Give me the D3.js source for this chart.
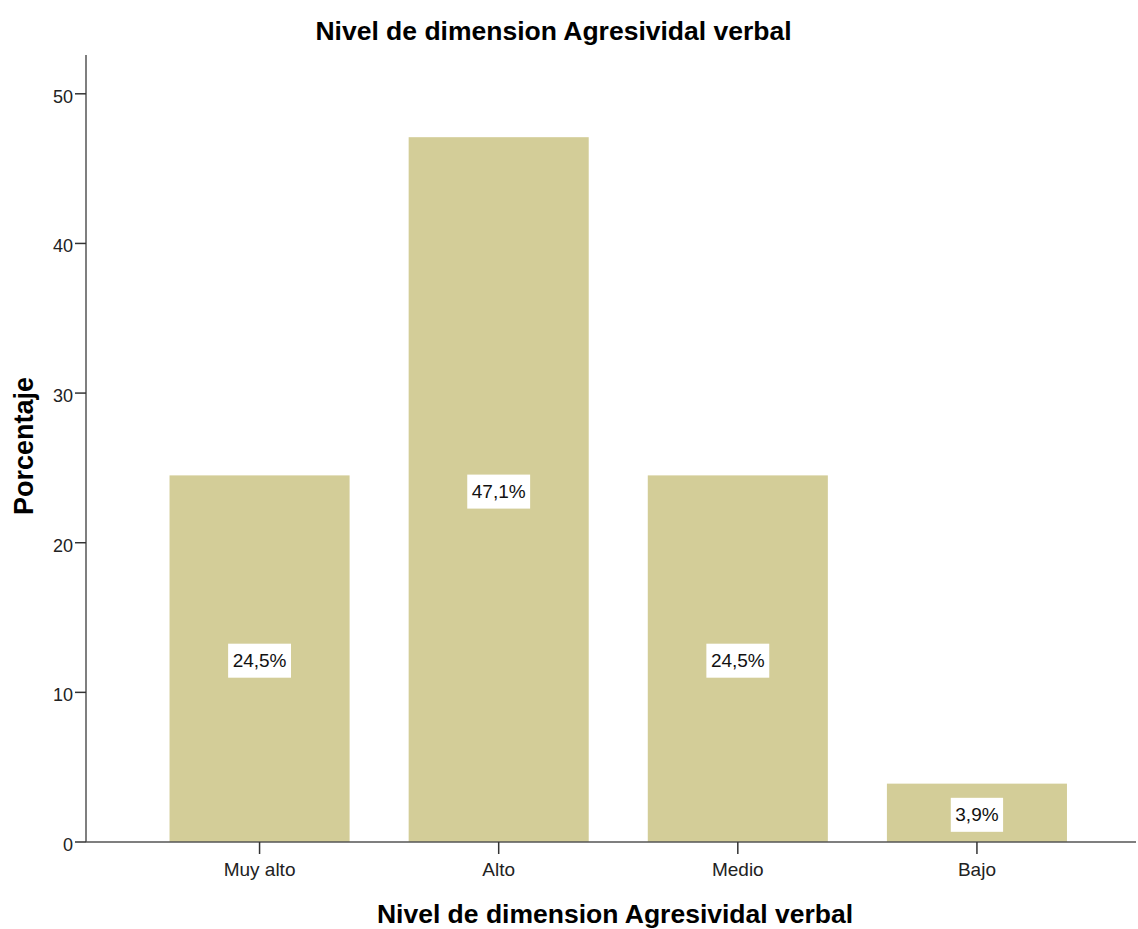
<!DOCTYPE html>
<html>
<head>
<meta charset="utf-8">
<script src="https://cdn.jsdelivr.net/npm/d3@7"></script>
<style>
  body { margin: 0; background: #fff; }
  text { font-family: "Liberation Sans", Arial, sans-serif; }
</style>
</head>
<body>
<div class="chart"></div>
<script>
// data
var categories = ["Muy alto", "Alto", "Medio", "Bajo"];
var percents = [24.5, 47.1, 24.5, 3.9];
var labels = ["24,5%", "47,1%", "24,5%", "3,9%"];
var yTicks = [0, 10, 20, 30, 40, 50];

var width = 1138, height = 929;
var axisLeft = 86, axisRight = 1136, axisTop = 55, axisBottom = 842;

var svg = d3.select(".chart")
    .append("svg")
    .attr("width", width)
    .attr("height", height);

var x = d3.scaleBand()
    .domain(categories)
    .range([140, 1096.5])
    .paddingInner(0.247)
    .paddingOuter(0.1235);

var y = d3.scaleLinear()
    .domain([0, 50])
    .range([axisBottom, 93.8]);

// bars
svg.selectAll("rect.bar")
    .data(categories)
    .enter().append("rect")
    .attr("class", "bar")
    .attr("x", function(d) { return x(d); })
    .attr("width", x.bandwidth())
    .attr("y", function(d, i) { return y(percents[i]); })
    .attr("height", function(d, i) { return axisBottom - y(percents[i]); })
    .attr("fill", "#d3cd98");

// value labels, white box sized to the text
var lab = svg.selectAll("g.lab")
    .data(categories)
    .enter().append("g")
    .attr("class", "lab")
    .attr("transform", function(d, i) {
        var cy = (y(percents[i]) + axisBottom) / 2 + 2;
        return "translate(" + (x(d) + x.bandwidth() / 2) + "," + cy + ")";
    });
var boxes = lab.append("rect")
    .attr("y", -17)
    .attr("height", 34)
    .attr("fill", "#fff");
var txts = lab.append("text")
    .attr("text-anchor", "middle")
    .attr("dy", "0.35em")
    .style("font-size", "19px")
    .attr("fill", "#111")
    .text(function(d, i) { return labels[i]; });
txts.each(function(d, i) {
    var w = this.getComputedTextLength() + 9;
    d3.select(boxes.nodes()[i]).attr("x", -w / 2).attr("width", w);
});

// y axis
var yAxis = svg.append("g").attr("class", "y axis");
yAxis.append("line")
    .attr("x1", axisLeft).attr("x2", axisLeft)
    .attr("y1", axisTop).attr("y2", axisBottom)
    .attr("stroke", "#555").attr("stroke-width", 1.5);
var yt = yAxis.selectAll("g.tick")
    .data(yTicks)
    .enter().append("g")
    .attr("class", "tick")
    .attr("transform", function(d) { return "translate(0," + y(d) + ")"; });
yt.append("line")
    .attr("x1", axisLeft - 11).attr("x2", axisLeft)
    .attr("stroke", "#333").attr("stroke-width", 1.5);
yt.append("text")
    .attr("x", axisLeft - 13)
    .attr("y", 9)
    .attr("text-anchor", "end")
    .style("font-size", "18px")
    .attr("fill", "#222")
    .text(function(d) { return d; });

// x axis
var xAxis = svg.append("g").attr("class", "x axis");
xAxis.append("line")
    .attr("x1", axisLeft).attr("x2", axisRight)
    .attr("y1", axisBottom).attr("y2", axisBottom)
    .attr("stroke", "#555").attr("stroke-width", 1.5);
var xt = xAxis.selectAll("g.tick")
    .data(categories)
    .enter().append("g")
    .attr("class", "tick")
    .attr("transform", function(d) { return "translate(" + (x(d) + x.bandwidth() / 2) + "," + axisBottom + ")"; });
xt.append("line")
    .attr("y1", 0).attr("y2", 12)
    .attr("stroke", "#333").attr("stroke-width", 1.5);
xt.append("text")
    .attr("y", 34)
    .attr("text-anchor", "middle")
    .style("font-size", "19px")
    .attr("fill", "#222")
    .text(function(d) { return d; });

// titles
svg.append("text")
    .attr("x", 553.5).attr("y", 40)
    .attr("text-anchor", "middle")
    .style("font-size", "26.5px")
    .style("font-weight", "bold")
    .text("Nivel de dimension Agresividal verbal");

svg.append("text")
    .attr("x", 615).attr("y", 923)
    .attr("text-anchor", "middle")
    .style("font-size", "26.5px")
    .style("font-weight", "bold")
    .text("Nivel de dimension Agresividal verbal");

svg.append("text")
    .attr("transform", "translate(33,446) rotate(-90)")
    .attr("text-anchor", "middle")
    .style("font-size", "27px")
    .style("font-weight", "bold")
    .text("Porcentaje");
</script>
</body>
</html>
